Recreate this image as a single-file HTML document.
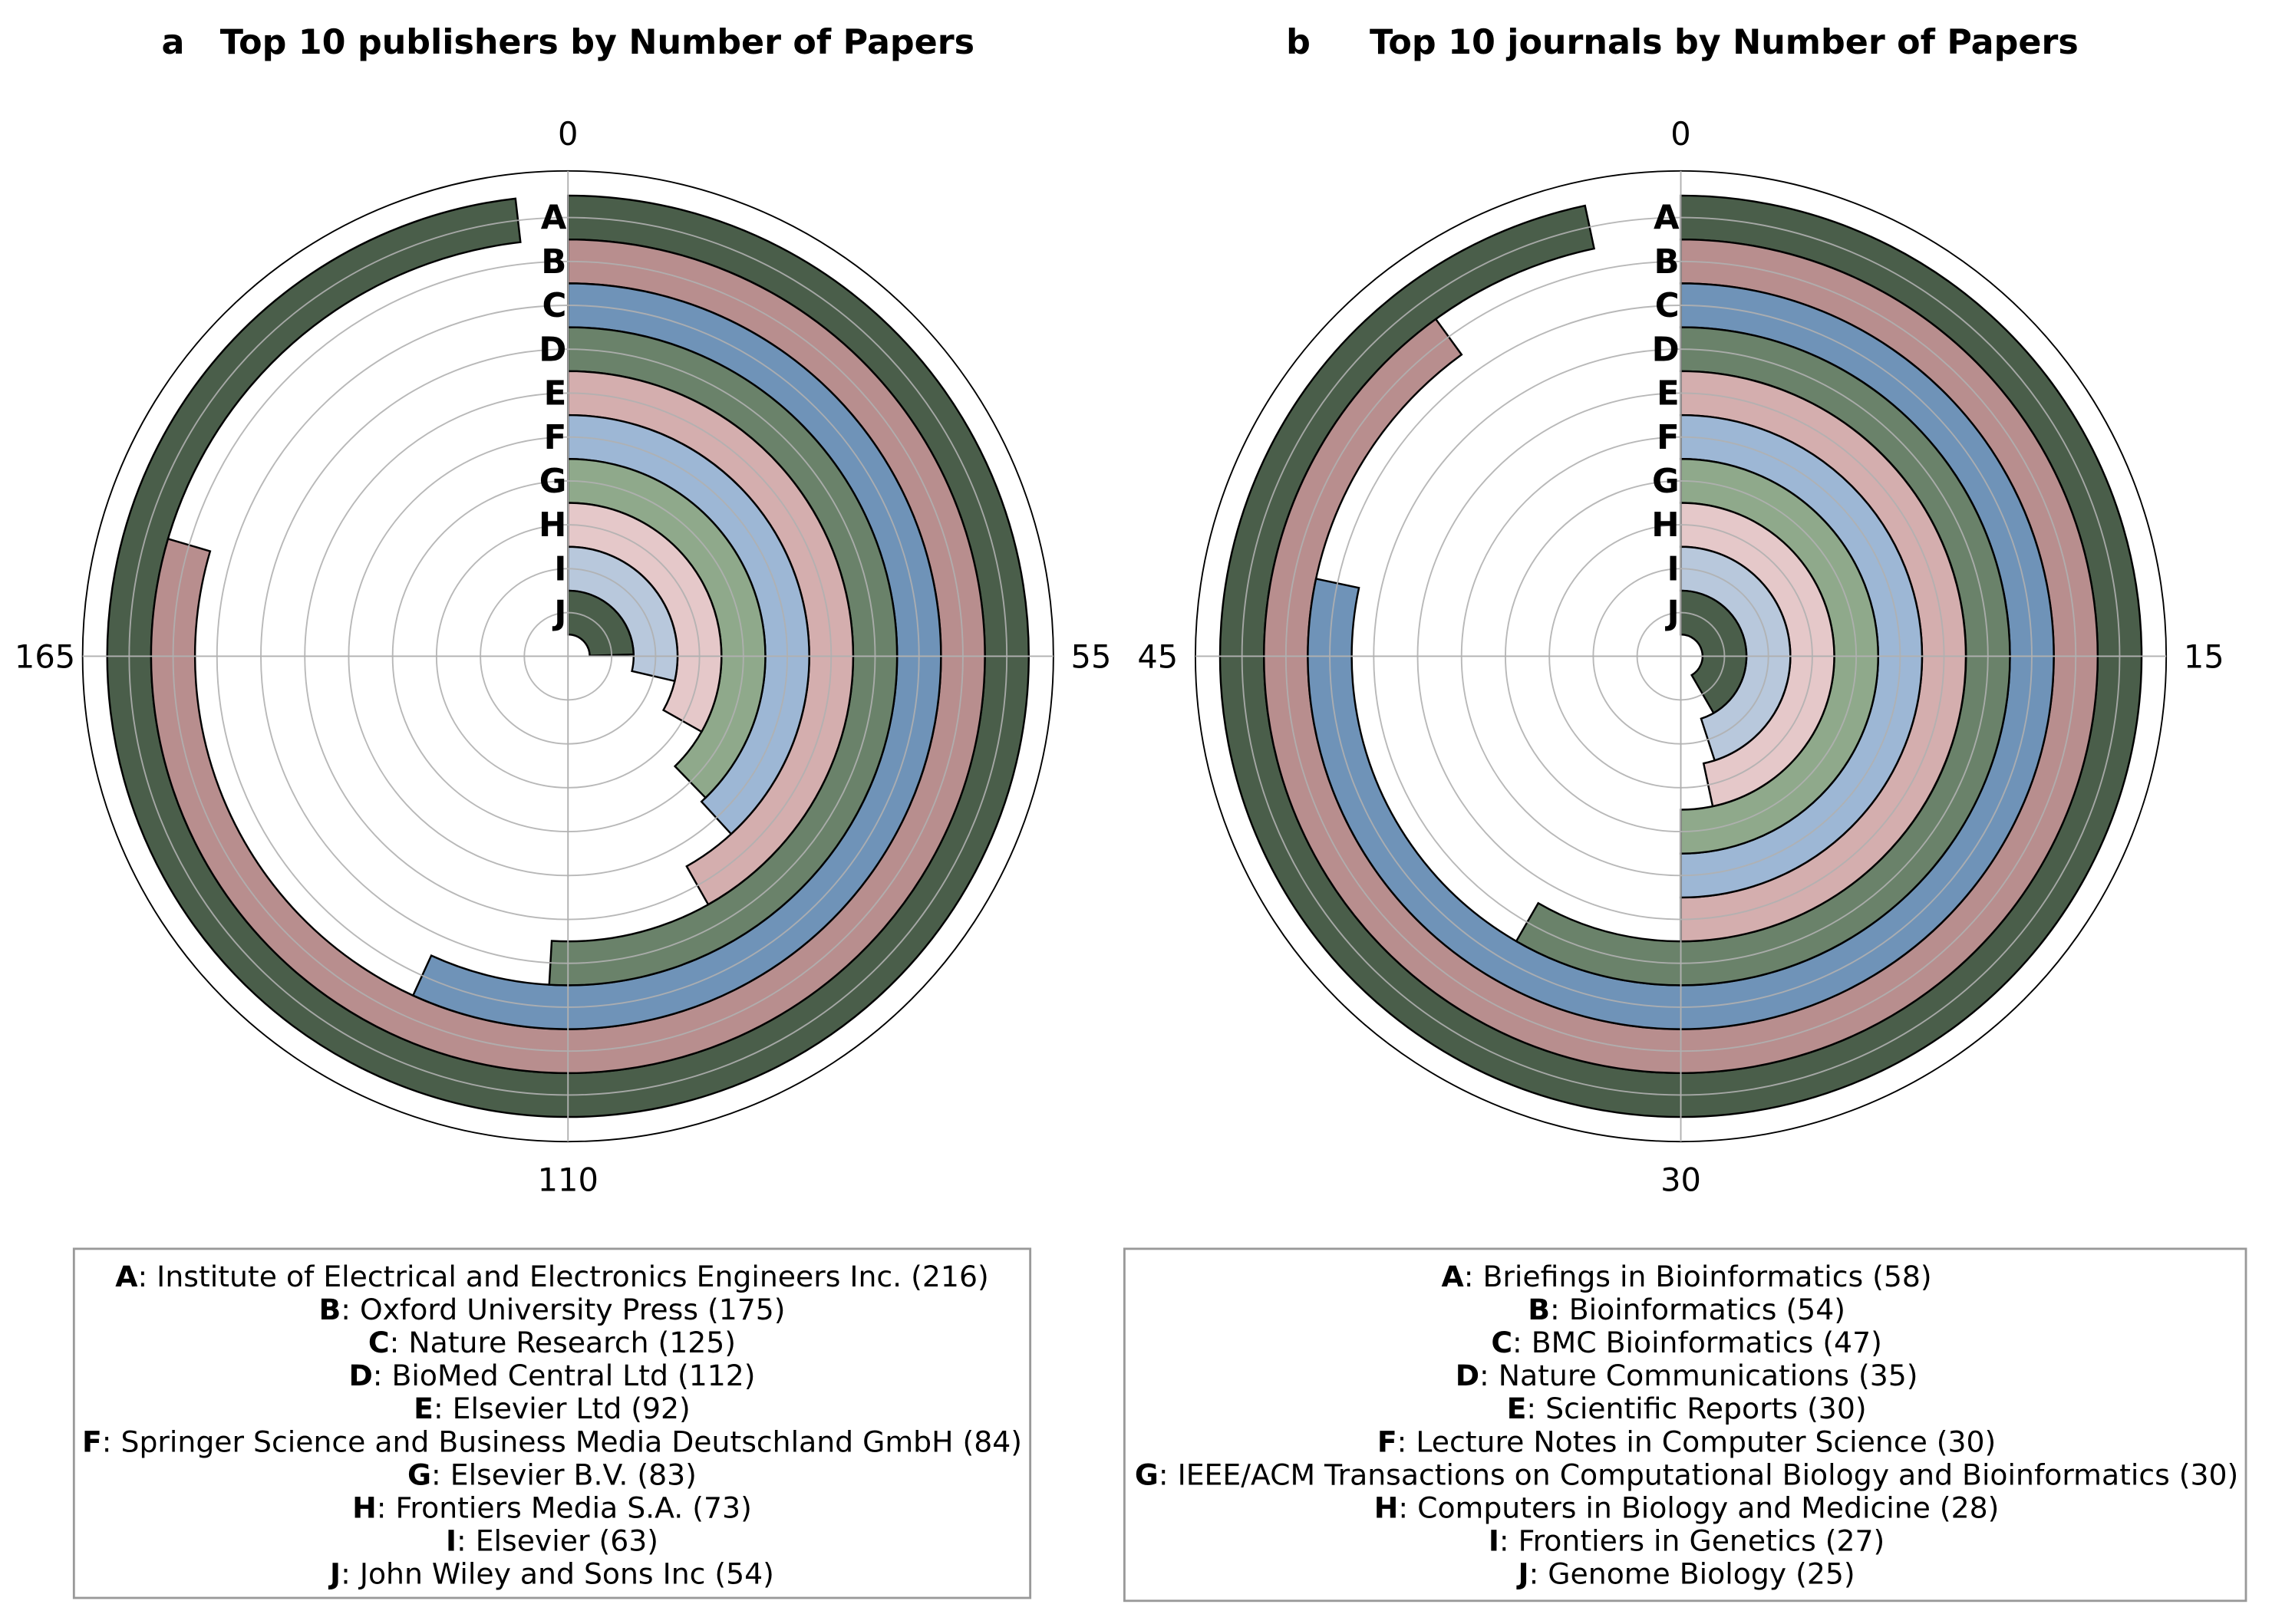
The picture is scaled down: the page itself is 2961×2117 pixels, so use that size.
<!DOCTYPE html>
<html><head><meta charset="utf-8"><style>
html,body{margin:0;padding:0;background:#fff}
svg{display:block;font-family:"DejaVu Sans","Liberation Sans",sans-serif}
</style></head><body>
<svg id="fig" width="2961" height="2117" viewBox="0 0 1568 1121" preserveAspectRatio="none">
<text x="392" y="37" text-anchor="middle" font-size="23.5" font-weight="bold" xml:space="preserve">a   Top 10 publishers by Number of Papers</text>
<text x="1161" y="37" text-anchor="middle" font-size="23.5" font-weight="bold" xml:space="preserve">b     Top 10 journals by Number of Papers</text>
<g id="chartA"></g>
<g id="chartB"></g>
<rect x="51" y="862" width="660" height="241" fill="#fff" stroke="#999" stroke-width="1.5"/>
<rect x="776" y="862" width="774" height="243" fill="#fff" stroke="#999" stroke-width="1.5"/>
<g id="legA"></g>
<g id="legB"></g>
</svg>
<script>
const letters = ["A","B","C","D","E","F","G","H","I","J"];
const colors = ["#4a5e4a","#b88e8e","#6f93b8","#6a826a","#d4aeae","#9db7d5","#8fa98b","#e5c8c9","#b8c8dc","#4a5e4a"];
const pubNames = ["Institute of Electrical and Electronics Engineers Inc.","Oxford University Press","Nature Research","BioMed Central Ltd","Elsevier Ltd","Springer Science and Business Media Deutschland GmbH","Elsevier B.V.","Frontiers Media S.A.","Elsevier","John Wiley and Sons Inc"];
const pubValues = [216,175,125,112,92,84,83,73,63,54];
const pubTicks = [0,55,110,165];
const jouNames = ["Briefings in Bioinformatics","Bioinformatics","BMC Bioinformatics","Nature Communications","Scientific Reports","Lecture Notes in Computer Science","IEEE/ACM Transactions on Computational Biology and Bioinformatics","Computers in Biology and Medicine","Frontiers in Genetics","Genome Biology"];
const jouValues = [58,54,47,35,30,30,30,28,27,25];
const jouTicks = [0,15,30,45];

const NS="http://www.w3.org/2000/svg";
function mk(tag, attrs, parent){const e=document.createElementNS(NS,tag);for(const k in attrs)e.setAttribute(k,attrs[k]);parent.appendChild(e);return e;}

function drawPolar(g, cx, cy, values, ticks, maxV, prefix){
  const R=335, r0=15, bw=30.3;
  mk('circle',{cx:cx,cy:cy,r:R,fill:'none',stroke:'#000','stroke-width':1},g);
  const ang = v => v/maxV*2*Math.PI;
  const pt = (r,a)=>[cx+r*Math.sin(a), cy-r*Math.cos(a)];
  values.forEach((v,i)=>{
    const ro = r0 + bw*(10-i), ri = ro - bw;
    const a = ang(v);
    const large = a>Math.PI?1:0;
    const p1=pt(ro,0),p2=pt(ro,a),p3=pt(ri,a),p4=pt(ri,0);
    const d=`M${p1[0]},${p1[1]} A${ro},${ro} 0 ${large} 1 ${p2[0]},${p2[1]} L${p3[0]},${p3[1]} A${ri},${ri} 0 ${large} 0 ${p4[0]},${p4[1]} Z`;
    const p=mk('path',{d:d,fill:colors[i],stroke:'#000','stroke-width':1.3},g);
    
    
  });
  for(let i=0;i<10;i++){
    const c=mk('circle',{cx:cx,cy:cy,r:r0+bw*(i+0.5),fill:'none',stroke:'#b0b0b0','stroke-width':1,opacity:0.9},g);
    
    
  }
  ticks.forEach(t=>{
    const a=ang(t);
    const e=pt(R,a), l=pt(R+26,a);
    const ln=mk('line',{x1:cx,y1:cy,x2:e[0],y2:e[1],stroke:'#b0b0b0','stroke-width':1},g);
    
    
    const tx=mk('text',{x:l[0],y:l[1]+8,'text-anchor':'middle','font-size':22},g);
    tx.textContent=t;
    
    
  });
  letters.forEach((L,i)=>{
    const rc = r0 + bw*(10-i) - bw/2;
    const tx=mk('text',{x:cx-1,y:cy-rc+8,'text-anchor':'end','font-size':23,'font-weight':'bold'},g);
    tx.textContent=L;
    
    
  });
}
drawPolar(document.getElementById('chartA'),392,453,pubValues,pubTicks,220,'publishers');
drawPolar(document.getElementById('chartB'),1160,453,jouValues,jouTicks,60,'journals');

function drawLegend(g,cx,names,values){
  names.forEach((n,i)=>{
    const tx=mk('text',{x:cx,y:888+i*22.8,'text-anchor':'middle','font-size':20},g);
    const b=mk('tspan',{'font-weight':'bold'},tx); b.textContent=letters[i];
    const s=mk('tspan',{},tx); s.textContent=': '+n+' ('+values[i]+')';
    
    
  });
}
drawLegend(document.getElementById('legA'),381,pubNames,pubValues);
drawLegend(document.getElementById('legB'),1164,jouNames,jouValues);
</script>
</body></html>
